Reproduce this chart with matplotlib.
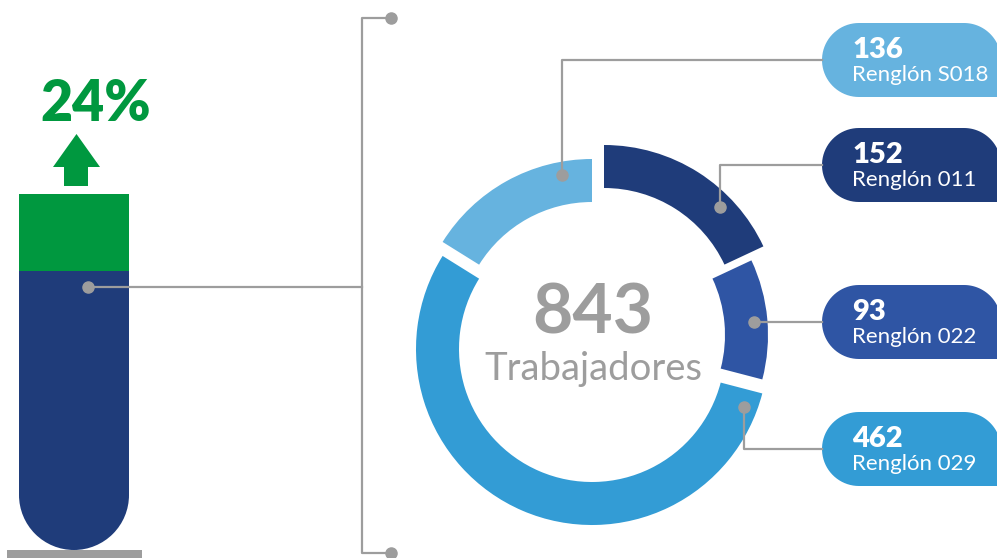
import numpy as np
import matplotlib
matplotlib.use('Agg')
import matplotlib.pyplot as plt
from matplotlib.patches import Rectangle, Wedge, Polygon

plt.rcParams['font.family'] = ['Lato', 'DejaVu Sans']

# data (pie order: clockwise from 12 o'clock)
renglones = ['Renglón 011', 'Renglón 022', 'Renglón 029', 'Renglón S018']
trabajadores = [152, 93, 462, 136]
total_label = 'Trabajadores'
growth_pct = 24

# colors
green = '#00983f'
navy = '#1f3c7a'
grey = '#9d9d9d'
seg_colors = [navy, '#2f55a4', '#339cd5', '#66b3df']

W, H = 997, 558
fig = plt.figure(figsize=(W/100, H/100), dpi=100)
ax = fig.add_axes([0, 0, 1, 1])

# donut (pixel coords, y axis inverted -> ccw in data is cw on screen)
cx, cy = 592, 335
R, width = 176, 43
shifts = [(12, -14), (0, 0), (0, 14), (0, 0)]  # per segment offset
wedges, _ = ax.pie(trabajadores, colors=seg_colors, startangle=-90, counterclock=True,
                   radius=R, center=(cx, cy), wedgeprops=dict(width=width, linewidth=0))
for w, (sx, sy) in zip(wedges, shifts):
    w.set_center((cx+sx, cy+sy))

ax.text(cx+1, 333, str(sum(trabajadores)), ha='center', va='baseline', fontsize=50,
        fontweight='bold', color=grey)
ax.text(cx+1, 380, total_label, ha='center', va='baseline', fontsize=27.5, color=grey)

# connectors + badges
dot_ang = [44.5, 4.6, -20.7, 100.5]
dot_r = 163
badge_y = [165, 322, 449, 60]
bx = 822
lw = 1.6
for i in range(len(trabajadores)):
    sx, sy = shifts[i]
    a = np.deg2rad(dot_ang[i])
    px = cx + sx + dot_r*np.cos(a)
    py = cy + sy - dot_r*np.sin(a)
    by = badge_y[i]
    ax.plot([px, px, bx], [py, by, by], color=grey, lw=lw, zorder=3)
    ax.plot(px, py, 'o', color=grey, ms=8, zorder=4)
    # badge: round left end, rounded top-right, square bottom-right
    r1, r2, xr = 37, 37, 1001
    t = np.linspace(np.pi/2, 3*np.pi/2, 40)
    left = np.c_[bx + r1 + r1*np.cos(t), by - r1*np.sin(t)]
    t2 = np.linspace(np.pi/2, 0, 30)
    tr = np.c_[xr - r2 + r2*np.cos(t2), by - 37 + r2 - r2*np.sin(t2)]
    pts = np.vstack([left[::-1], [[bx + r1, by + 37]], [[xr, by + 37]], tr[::-1], [[bx + r1, by - 37]]])
    ax.add_patch(Polygon(pts, closed=True, facecolor=seg_colors[i], edgecolor='none', zorder=2))
    ax.text(852, by - 2, str(trabajadores[i]), ha='left', va='baseline', fontsize=21,
            fontweight='heavy', color='white', zorder=5)
    ax.text(852, by + 21, renglones[i], ha='left', va='baseline', fontsize=16,
            color='white', zorder=5)

# left bar
ax.add_patch(Rectangle((19, 194), 110, 77, facecolor=green, edgecolor='none'))
ax.add_patch(Rectangle((19, 271), 110, 224, facecolor=navy, edgecolor='none'))
ax.add_patch(Wedge((74, 495), 55, 0, 180, facecolor=navy, edgecolor='none'))
ax.add_patch(Rectangle((7, 550), 135, 10, facecolor=grey, edgecolor='none'))
ax.fill([64, 88, 88, 100, 76.5, 53, 64], [186, 186, 167, 167, 134, 167, 167],
        color=green, lw=0)
ax.text(96, 121, f'{growth_pct}%', ha='center', va='baseline', fontsize=40,
        fontweight='heavy', color=green)

# bracket
ax.plot([88, 362], [287, 287], color=grey, lw=lw)
ax.plot(88, 287, 'o', color=grey, ms=8)
ax.plot([391, 362, 362, 391], [18, 18, 553, 553], color=grey, lw=lw)
ax.plot([391, 391], [18, 553], 'o', color=grey, ms=8, ls='none')

ax.set_xlim(0, W)
ax.set_ylim(H, 0)
ax.set_aspect('auto')
ax.axis('off')
fig.savefig('out.png', dpi=100)
